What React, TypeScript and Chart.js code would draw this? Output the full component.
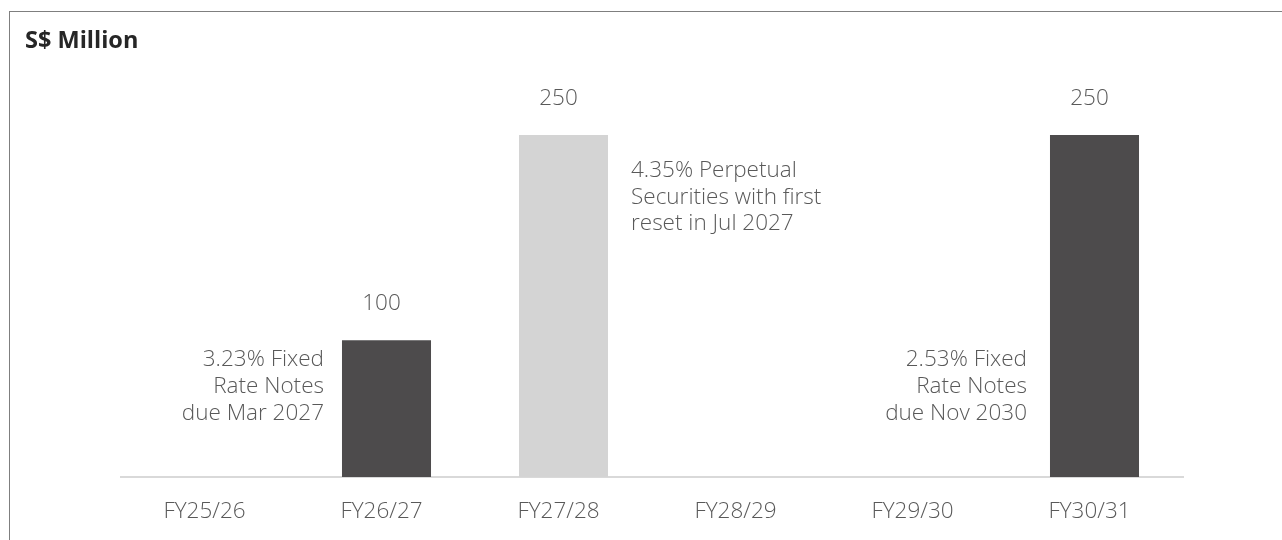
import React, { useEffect, useRef } from "react";
import { Chart, registerables } from "chart.js";

Chart.register(...registerables);

const categories = ["FY25/26", "FY26/27", "FY27/28", "FY28/29", "FY29/30", "FY30/31"];
const fixedRateNotes = [0, 100, 0, 0, 0, 250];
const perpetualSecurities = [0, 0, 250, 0, 0, 0];
const chartTitle = "S$ Million";
const noteLines: string[][] = [
  [],
  ["3.23% Fixed", "Rate Notes", "due Mar 2027"],
  ["4.35% Perpetual", "Securities with first", "reset in Jul 2027"],
  [],
  [],
  ["2.53% Fixed", "Rate Notes", "due Nov 2030"],
];

const FONT = '"Open Sans", "Noto Sans", sans-serif';
const TEXT = "#595959";
const LABEL_SHIFT = -5;

// note placement (style/position, kept out of data)
const notePlacement: Record<number, { side: "left" | "right"; gap: number; atValue: number }> = {
  1: { side: "left", gap: 18, atValue: 81 },
  2: { side: "right", gap: 23, atValue: 219.5 },
  5: { side: "left", gap: 23, atValue: 81 },
};

const overlay = {
  id: "overlay",
  afterDatasetsDraw(chart: any) {
    const { ctx } = chart;
    const x = chart.scales.x;
    const y = chart.scales.y;
    ctx.save();
    ctx.textBaseline = "alphabetic";
    // value labels
    ctx.font = `300 22.5px ${FONT}`;
    ctx.fillStyle = TEXT;
    ctx.textAlign = "center";
    categories.forEach((_, i) => {
      const total = (fixedRateNotes[i] || 0) + (perpetualSecurities[i] || 0);
      if (total > 0) {
        ctx.fillText(String(total), x.getPixelForValue(i) + LABEL_SHIFT, y.getPixelForValue(total) - 30);
      }
    });
    // notes
    const meta = chart.getDatasetMeta(0);
    Object.keys(notePlacement).forEach((k) => {
      const i = Number(k);
      const p = notePlacement[i];
      const lines = noteLines[i];
      const bar = meta.data[i];
      const half = bar ? bar.width / 2 : 44;
      const cx = x.getPixelForValue(i);
      const tx = p.side === "left" ? cx - half - p.gap : cx + half + p.gap;
      ctx.textAlign = p.side === "left" ? "right" : "left";
      const by = y.getPixelForValue(p.atValue);
      lines.forEach((ln, j) => ctx.fillText(ln, tx, by + j * 26.8));
    });
    // title
    ctx.font = `bold 23.5px ${FONT}`;
    ctx.fillStyle = "#262626";
    ctx.textAlign = "left";
    ctx.fillText(chartTitle, 25, 48);
    ctx.restore();
  },
};

export default function App() {
  const ref = useRef<HTMLCanvasElement | null>(null);
  useEffect(() => {
    if (!ref.current) return;
    const chart = new Chart(ref.current, {
      type: "bar",
      data: {
        labels: categories,
        datasets: [
          {
            label: "Fixed Rate Notes",
            data: fixedRateNotes,
            backgroundColor: "#4d4b4c",
            categoryPercentage: 0.503,
            barPercentage: 1,
          },
          {
            label: "Perpetual Securities",
            data: perpetualSecurities,
            backgroundColor: "#d4d4d4",
            categoryPercentage: 0.503,
            barPercentage: 1,
          },
        ],
      },
      options: {
        animation: false,
        responsive: true,
        maintainAspectRatio: false,
        layout: { padding: { left: 121, right: 99, top: 66.6, bottom: 0 } },
        plugins: { legend: { display: false }, tooltip: { enabled: false }, title: { display: false } },
        scales: {
          x: {
            stacked: true,
            grid: { display: false, drawTicks: false },
            border: { display: true, color: "#d9d9d9", width: 2 },
            ticks: {
              color: TEXT,
              font: { family: FONT, size: 22.5, weight: 300 as any },
              padding: 21,
              maxRotation: 0,
              labelOffset: LABEL_SHIFT,
            },
            afterFit: (s: any) => {
              s.height = 63;
            },
          },
          y: {
            stacked: true,
            display: false,
            min: 0,
            max: 300,
          },
        },
      },
      plugins: [overlay],
    });
    return () => chart.destroy();
  }, []);
  return (
    <div style={{ position: "fixed", left: 0, top: 0, width: 1282, height: 540, background: "#fff", overflow: "hidden" }}>
      <div
        style={{
          position: "absolute",
          left: 9,
          top: 11,
          right: 0,
          bottom: 0,
          borderTop: "1px solid #7f7f7f",
          borderLeft: "1px solid #7f7f7f",
        }}
      />
      <canvas ref={ref} style={{ position: "absolute", left: 0, top: 0 }} />
    </div>
  );
}
